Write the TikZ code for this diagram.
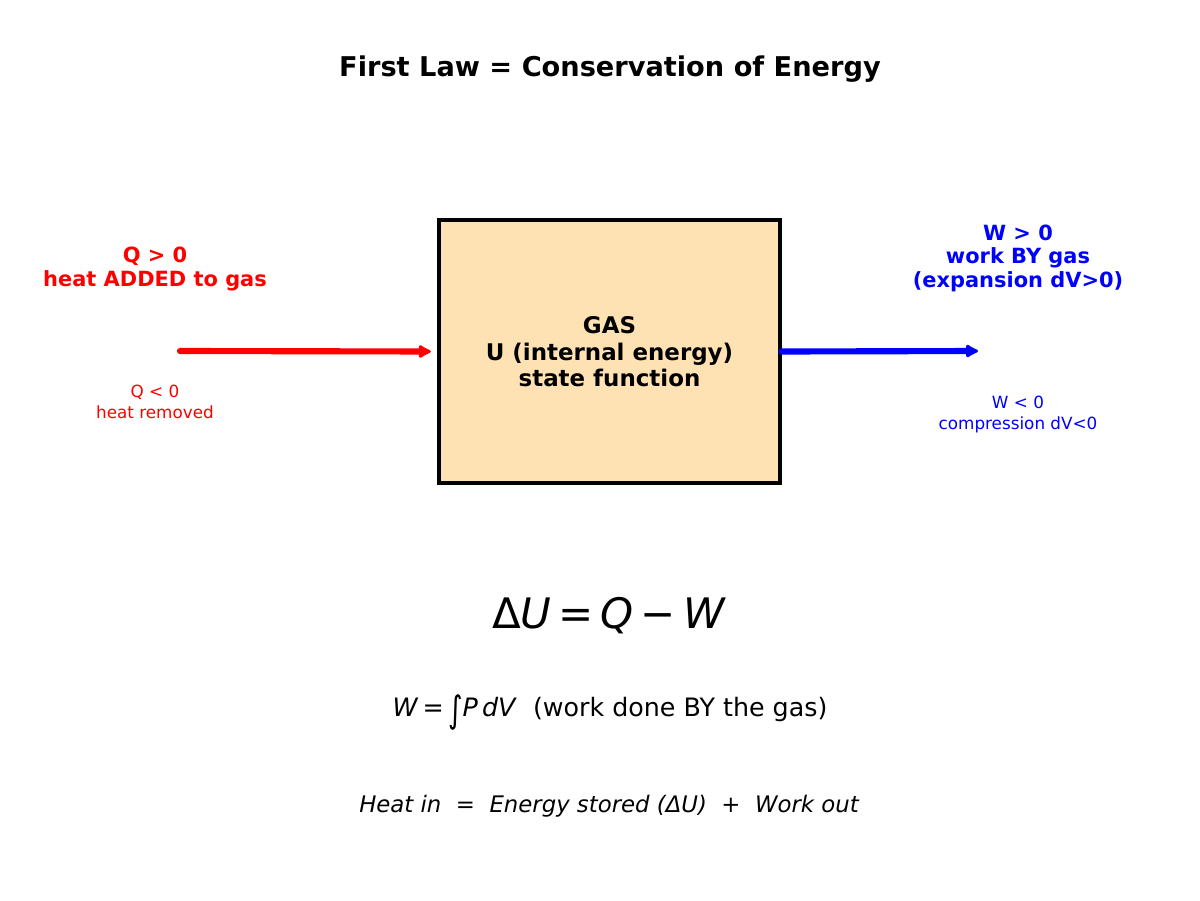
\documentclass[tikz,border=0pt]{standalone}
\usepackage{fontspec}
\usepackage{graphicx}
\setmainfont{DejaVu Sans}
\usetikzlibrary{arrows.meta}
\definecolor{gasfill}{RGB}{254,226,179}
\begin{document}
\begin{tikzpicture}[x=0.75pt,y=-0.75pt,
  lbl/.style={align=center,inner sep=0pt},
  flow/.style={line width=4.6pt,line cap=round,-{Latex[length=11pt,width=12pt,round]}}]
\useasboundingbox (0,0) rectangle (1200,900);
\node[lbl,font=\fontsize{20.4}{24}\selectfont\bfseries] (title) at (610,69) {First Law = Conservation of Energy};
\node[draw=black,line width=2.3pt,fill=gasfill,minimum width=341*0.75pt,minimum height=263*0.75pt,inner sep=0pt] (gas) at (609.5,351.5) {};
\node[lbl,font=\fontsize{17.2}{19.9}\selectfont\bfseries] (gastext) at (609.5,352) {GAS\\U (internal energy)\\state function};
\coordinate (qstart) at (180,351);
\coordinate (wend) at (978,351);
\draw[flow,red,shorten >=5pt] (qstart) -- (gas.west);
\draw[flow,blue] (gas.east) -- (wend);
\node[lbl,red,font=\fontsize{15.7}{18}\selectfont\bfseries] (qpos) at (155,269) {Q > 0\\heat ADDED to gas};
\node[lbl,red,font=\fontsize{12.6}{15.75}\selectfont] (qneg) at (155,402) {Q < 0\\heat removed};
\node[lbl,blue,font=\fontsize{15.7}{17.6}\selectfont\bfseries] (wpos) at (1018,258) {W > 0\\work BY gas\\(expansion dV>0)};
\node[lbl,blue,font=\fontsize{12.6}{15.75}\selectfont] (wneg) at (1018,415) {W < 0\\compression dV<0};
\node[lbl,font=\fontsize{31.5}{36}\selectfont] (eq1) at (609,616) {Δ\textit{U}\,=\,\textit{Q}\,−\,\textit{W}};
\node[lbl,font=\fontsize{19}{23}\selectfont] (eq2) at (610,712) {\textit{W}\,=\,\raisebox{-0.2em}{\scalebox{1.1}[1.45]{∫}}\textit{P}\,\textit{dV}\ \ (work done BY the gas)};
\node[lbl,font=\fontsize{17.1}{21}\selectfont\itshape] (eq3) at (609,806) {Heat in\ \ =\ \ Energy stored (ΔU)\ \ +\ \ Work out};
\end{tikzpicture}
\end{document}
